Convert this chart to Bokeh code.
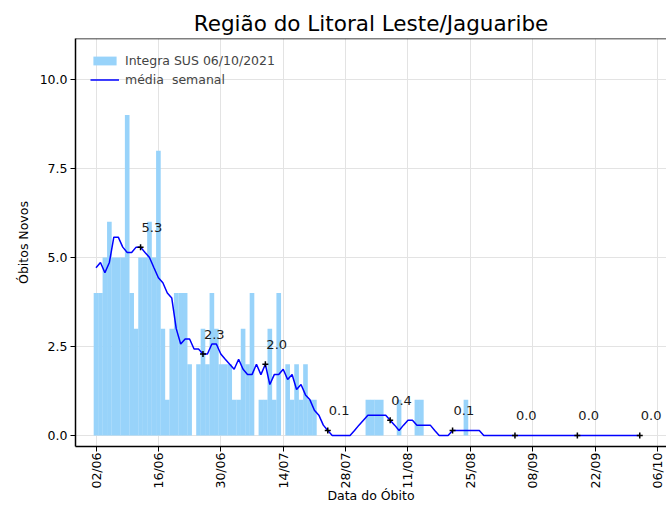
import math
import pandas as pd
from bokeh.plotting import figure
from bokeh.core.properties import value
from bokeh.models import (Range1d, FixedTicker, DatetimeTickFormatter, PrintfTickFormatter,
                          ColumnDataSource, LabelSet, Span)
from bokeh.embed import file_html
from bokeh.resources import INLINE

# ---------------- data ----------------
inicio = "2021-06-02"

# daily new deaths, 02/06 onwards
obitos = [
    4, 4, 5, 6, 5, 5, 5, 9, 4, 3,
    5, 5, 6, 5, 8, 3, 1, 3, 4, 4,
    4, 2, 0, 2, 3, 2, 4, 3, 2, 2,
    2, 1, 1, 3, 2, 4, 0, 1, 1, 3,
    1, 4, 0, 2, 1, 2, 1, 2, 1, 1,
    0, 0, 0, 0, 0, 0, 0, 0, 0, 0,
    0, 1, 1, 1, 1, 0, 0, 0, 1, 0,
    0, 0, 1, 1, 0, 0, 0, 0, 0, 0,
    0, 0, 0, 1, 0, 0, 0, 0, 0, 0,
    0, 0, 0, 0, 0, 0, 0, 0, 0, 0,
    0, 0, 0, 0, 0, 0, 0, 0, 0, 0,
    0, 0, 0, 0, 0, 0, 0, 0, 0, 0,
    0, 0, 0, 0, 0, 0,
]

# weekly (centred 7-day) mean, 02/06 onwards
media_semanal = [
    4.71, 4.86, 4.57, 4.86, 5.57, 5.57, 5.29, 5.14, 5.14, 5.29,
    5.29, 5.14, 5.00, 4.71, 4.43, 4.29, 4.00, 3.86, 3.00, 2.57,
    2.71, 2.71, 2.43, 2.43, 2.29, 2.29, 2.57, 2.57, 2.29, 2.14,
    2.00, 1.86, 2.14, 1.86, 1.71, 1.71, 2.00, 1.71, 2.00, 1.43,
    1.71, 1.71, 1.86, 1.57, 1.71, 1.29, 1.43, 1.14, 1.00, 0.71,
    0.57, 0.29, 0.14, 0.00, 0.00, 0.00, 0.00, 0.00, 0.14, 0.29,
    0.43, 0.57, 0.57, 0.57, 0.57, 0.57, 0.43, 0.29, 0.14, 0.29,
    0.43, 0.43, 0.29, 0.29, 0.29, 0.29, 0.14, 0.00, 0.00, 0.00,
    0.14, 0.14, 0.14, 0.14, 0.14, 0.14, 0.14, 0.00, 0.00, 0.00,
    0.00, 0.00, 0.00, 0.00, 0.00, 0.00, 0.00, 0.00, 0.00, 0.00,
    0.00, 0.00, 0.00, 0.00, 0.00, 0.00, 0.00, 0.00, 0.00, 0.00,
    0.00, 0.00, 0.00, 0.00, 0.00, 0.00, 0.00, 0.00, 0.00, 0.00,
    0.00, 0.00, 0.00,
]

# days (index from 02/06) with an annotated weekly mean
anot_idx = [10, 24, 38, 52, 66, 80, 94, 108, 122]

tick_datas = ["2021-06-02", "2021-06-16", "2021-06-30", "2021-07-14", "2021-07-28",
              "2021-08-11", "2021-08-25", "2021-09-08", "2021-09-22", "2021-10-06"]
y_ticks = [0, 2.5, 5, 7.5, 10]

titulo = "Região do Litoral Leste/Jaguaribe"
rotulo_barras = "Integra SUS 06/10/2021"
rotulo_linha = "média  semanal"

# ---------------- build ----------------
datas = pd.date_range(inicio, periods=len(obitos), freq="D")
datas_media = datas[:len(media_semanal)]

FONT = "DejaVu Sans"
dia = pd.Timedelta(days=1)
x0 = (datas[0] - 4.6 * dia).to_pydatetime()
x1 = (datas[0] + 128.0 * dia).to_pydatetime()
y0, y1 = -0.31, 11.15

p = figure(width=666, height=506, x_axis_type="datetime",
           output_backend="svg", toolbar_location=None,
           x_range=Range1d(x0, x1), y_range=Range1d(y0, y1),
           min_border_left=75, min_border_right=0,
           min_border_top=38, min_border_bottom=60,
           title=titulo)

p.title.align = "center"
p.title.text_font = FONT
p.title.text_font_size = "21.5px"
p.title.text_font_style = "normal"
p.title.text_color = "black"
p.title.standoff = 6
p.title.offset = 4

p.vbar(x=datas, top=obitos, width=86400000 * 1.04, color="#98d3fa", line_color=None,
       legend_label=rotulo_barras)
p.line(datas_media, media_semanal, color="#0000ff", line_width=1.5,
       legend_label=rotulo_linha)

ax_x = [datas[i] for i in anot_idx]
ax_y = [media_semanal[i] for i in anot_idx]
p.scatter(ax_x, ax_y, marker="cross", size=6, color="black", line_width=1.5)
src = ColumnDataSource(dict(x=ax_x, y=ax_y, t=[f"{v:.1f}" for v in ax_y]))
p.add_layout(LabelSet(x="x", y="y", text="t", source=src, x_offset=1, y_offset=15,
                      text_font=value(FONT), text_font_size=value("13px"),
                      text_color="#1a1a1a", text_baseline="alphabetic"))

p.add_layout(Span(location=y1, dimension="width", line_color="black", line_width=1.5))

tick_ms = [int(pd.Timestamp(t).value // 10**6) for t in tick_datas]
p.xaxis.ticker = FixedTicker(ticks=tick_ms)
p.xgrid.ticker = FixedTicker(ticks=tick_ms)
fmt = "%d/%m"
p.xaxis.formatter = DatetimeTickFormatter(days=fmt, months=fmt, hours=fmt, years=fmt,
                                          minutes=fmt, hourmin=fmt, seconds=fmt)
p.xaxis.major_label_orientation = math.pi / 2
p.yaxis.ticker = FixedTicker(ticks=y_ticks)
p.yaxis.formatter = PrintfTickFormatter(format="%.1f")

p.xaxis.axis_label = "Data do Óbito"
p.yaxis.axis_label = "Óbitos Novos"

for ax in (p.xaxis, p.yaxis):
    ax.axis_line_color = "black"
    ax.axis_line_width = 1.5
    ax.major_tick_out = 5
    ax.major_tick_in = 0
    ax.minor_tick_out = 0
    ax.minor_tick_in = 0
    ax.major_tick_line_color = "black"
    ax.major_label_text_font = FONT
    ax.major_label_text_font_size = "12.5px"
    ax.major_label_text_color = "black"
    ax.axis_label_text_font = FONT
    ax.axis_label_text_font_size = "12.5px"
    ax.axis_label_text_font_style = "normal"
    ax.axis_label_text_color = "black"
p.xaxis.major_label_standoff = 1
p.xaxis.axis_label_standoff = -4
p.yaxis.major_label_standoff = 3
p.yaxis.axis_label_standoff = 6

p.grid.grid_line_color = "#e3e3e3"
p.grid.grid_line_width = 1
p.outline_line_color = None
p.background_fill_color = "white"
p.border_fill_color = "white"

lg = p.legend[0]
lg.location = "top_left"
lg.background_fill_alpha = 0
lg.border_line_alpha = 0
lg.label_text_font = FONT
lg.label_text_font_size = "12.5px"
lg.glyph_width = 29
lg.glyph_height = 11
lg.label_height = 11
lg.spacing = 4
lg.margin = 0
lg.padding = 15
lg.label_standoff = 6

open("out.html", "w").write(file_html(p, INLINE))
